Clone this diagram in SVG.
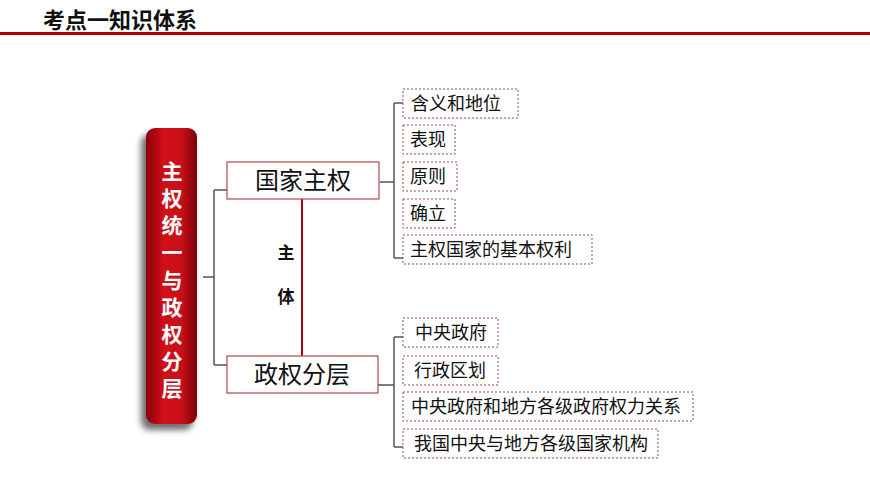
<svg xmlns="http://www.w3.org/2000/svg" width="870" height="489" viewBox="0 0 870 489">
<defs>
<style>
.t{font-family:"Liberation Sans","Noto Sans CJK SC",sans-serif;fill:#111}
.sub{fill:#fff;stroke:#b5454a;stroke-width:1.2}
.leaf{fill:#fff;stroke:#9a4a4e;stroke-width:1;stroke-dasharray:2,2}
.br{fill:none;stroke:#555;stroke-width:1.5}
</style>
<linearGradient id="rg" x1="0" x2="1" y1="0" y2="0">
<stop offset="0" stop-color="#8a0008"/><stop offset="0.35" stop-color="#d10f18"/><stop offset="0.7" stop-color="#c8101a"/><stop offset="1" stop-color="#7a0006"/>
</linearGradient>
<filter id="sh" x="-50%" y="-20%" width="200%" height="140%"><feGaussianBlur stdDeviation="3"/></filter>
</defs>
<rect width="870" height="489" fill="#fff"/>
<text x="43" y="28" class="t" font-size="22" font-weight="bold" fill="#222">考点一知识体系</text>
<rect x="0" y="32" width="870" height="3" fill="#b0000a"/>
<g id="root">
<rect x="141" y="134" width="52" height="296" rx="9" fill="#333" opacity="0.7" filter="url(#sh)"/>
<rect x="146" y="128" width="51" height="296" rx="9" fill="url(#rg)"/>
<text class="t" font-size="21" font-weight="bold" style="fill:#fff" text-anchor="middle">
<tspan x="172" y="179">主</tspan><tspan x="172" y="206">权</tspan><tspan x="172" y="233">统</tspan><tspan x="172" y="260">一</tspan><tspan x="172" y="288">与</tspan><tspan x="172" y="315">政</tspan><tspan x="172" y="342">权</tspan><tspan x="172" y="369">分</tspan><tspan x="172" y="396">层</tspan>
</text>
</g>
<g id="connectors">
<path class="br" d="M203 277H214M214 190V365M214 190H227M214 365H227"/>
<line x1="302" y1="199" x2="302" y2="356" stroke="#b0000a" stroke-width="2"/>
<path class="br" d="M380 182H394M394 103V258M394 103H403M394 258H403"/>
<path class="br" d="M378 385H394M394 337V447M394 337H403M394 447H403"/>
</g>
<g id="label-zhuti">
<text class="t" font-size="17" font-weight="bold" x="286" y="259" text-anchor="middle">主</text>
<text class="t" font-size="17" font-weight="bold" x="286" y="303" text-anchor="middle">体</text>
</g>
<g id="n-guojia"><rect class="sub" x="227" y="162" width="152" height="37"/><text class="t" font-size="24" x="303" y="189" text-anchor="middle">国家主权</text></g>
<g id="n-zhengquan"><rect class="sub" x="227" y="356" width="151" height="37"/><text class="t" font-size="24" x="302" y="383" text-anchor="middle">政权分层</text></g>
<g font-size="18">
<g id="l1"><rect class="leaf" x="403" y="89" width="115" height="29"/><text class="t" x="411" y="110">含义和地位</text></g>
<g id="l2"><rect class="leaf" x="403" y="125" width="52" height="29"/><text class="t" x="410" y="146">表现</text></g>
<g id="l3"><rect class="leaf" x="403" y="162" width="54" height="29"/><text class="t" x="410" y="183">原则</text></g>
<g id="l4"><rect class="leaf" x="403" y="199" width="52" height="29"/><text class="t" x="410" y="220">确立</text></g>
<g id="l5"><rect class="leaf" x="403" y="235" width="189" height="29"/><text class="t" x="410" y="256">主权国家的基本权利</text></g>
<g id="l6"><rect class="leaf" x="403" y="318" width="95" height="29"/><text class="t" x="415" y="339">中央政府</text></g>
<g id="l7"><rect class="leaf" x="403" y="356" width="95" height="29"/><text class="t" x="414" y="377">行政区划</text></g>
<g id="l8"><rect class="leaf" x="403" y="392" width="290" height="29"/><text class="t" x="411" y="413">中央政府和地方各级政府权力关系</text></g>
<g id="l9"><rect class="leaf" x="403" y="429" width="255" height="29"/><text class="t" x="414" y="450">我国中央与地方各级国家机构</text></g>
</g>
</svg>
